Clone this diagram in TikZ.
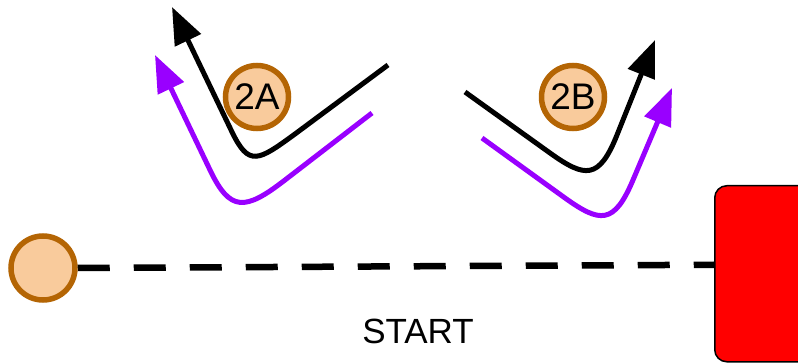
\documentclass[tikz,border=0pt]{standalone}
\usepackage{fontspec}
\setmainfont{Liberation Sans}
\usetikzlibrary{arrows.meta}
\definecolor{markfill}{HTML}{F9CB9C}
\definecolor{markline}{HTML}{B46504}
\definecolor{turnpurple}{HTML}{9900FF}
\begin{document}
\begin{tikzpicture}[x=1pt,y=-1pt,
  marker/.style={circle,draw=markline,fill=markfill,line width=5.5pt,minimum size=63pt,inner sep=0pt,font=\fontsize{37}{37}\selectfont},
  turn/.style={line width=5pt,-{Triangle[length=37pt,width=28pt]}}]
\useasboundingbox (0,0) rectangle (798,363);

\node[marker,minimum size=64pt] (start) at (43,268) {};
\node[draw=black,fill=red,line width=1.5pt,rounded corners=12pt,minimum width=130pt,minimum height=176pt,anchor=north west] (goal) at (714,185) {};
\draw[line width=6.5pt,dash pattern=on 32pt off 24pt] (start.east) -- ([yshift=9pt]goal.west);
\node[font=\fontsize{35}{35}\selectfont] (label) at (418,331) {START};

% 2A
\draw[turn,turnpurple] (372,113) -- (285,180) .. controls (245,211) and (230,212) .. (210,170) -- (155,55);
\draw[turn,black] (388,65) -- (295,134) .. controls (258,161) and (249,167) .. (232,132) -- (172,7);
\node[marker] (turnA) at (257,97) {2A};

% 2B
\draw[turn,turnpurple] (482,138) -- (565,198) .. controls (600,223) and (614,225) .. (633,180) -- (672,88);
\draw[turn,black] (465,92) -- (550,153) .. controls (585,178) and (599,180) .. (617,135) -- (655,40);
\node[marker] (turnB) at (573,97) {2B};
\end{tikzpicture}
\end{document}
